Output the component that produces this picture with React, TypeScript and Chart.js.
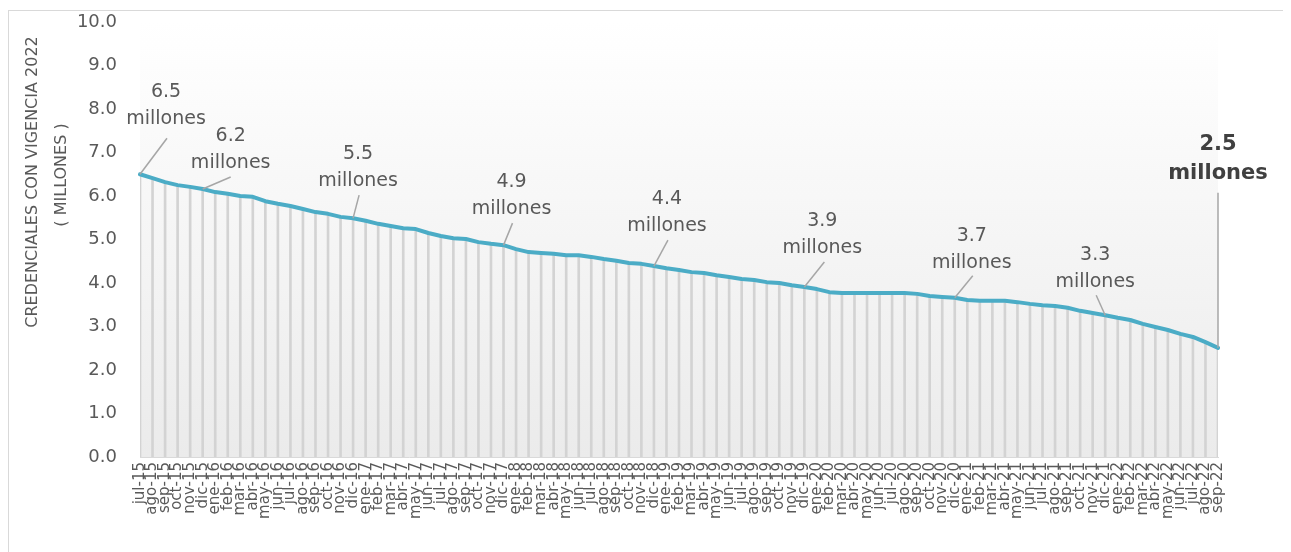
import React, { useEffect, useRef } from "react";
import { Chart, registerables } from "chart.js";

Chart.register(...registerables);

const categories = [
  "jul-15", "ago-15", "sep-15", "oct-15", "nov-15", "dic-15",
  "ene-16", "feb-16", "mar-16", "abr-16", "may-16", "jun-16", "jul-16", "ago-16", "sep-16", "oct-16", "nov-16", "dic-16",
  "ene-17", "feb-17", "mar-17", "abr-17", "may-17", "jun-17", "jul-17", "ago-17", "sep-17", "oct-17", "nov-17", "dic-17",
  "ene-18", "feb-18", "mar-18", "abr-18", "may-18", "jun-18", "jul-18", "ago-18", "sep-18", "oct-18", "nov-18", "dic-18",
  "ene-19", "feb-19", "mar-19", "abr-19", "may-19", "jun-19", "jul-19", "ago-19", "sep-19", "oct-19", "nov-19", "dic-19",
  "ene-20", "feb-20", "mar-20", "abr-20", "may-20", "jun-20", "jul-20", "ago-20", "sep-20", "oct-20", "nov-20", "dic-20",
  "ene-21", "feb-21", "mar-21", "abr-21", "may-21", "jun-21", "jul-21", "ago-21", "sep-21", "oct-21", "nov-21", "dic-21",
  "ene-22", "feb-22", "mar-22", "abr-22", "may-22", "jun-22", "jul-22", "ago-22", "sep-22",
];

const credenciales = [
  6.50, 6.41, 6.32, 6.25, 6.21, 6.16,
  6.09, 6.05, 6.00, 5.98, 5.88, 5.82, 5.77, 5.70, 5.63, 5.59, 5.52, 5.49,
  5.43, 5.36, 5.31, 5.26, 5.24, 5.15, 5.08, 5.03, 5.01, 4.94, 4.90, 4.87,
  4.78, 4.71, 4.69, 4.67, 4.64, 4.64, 4.60, 4.55, 4.51, 4.46, 4.44, 4.39,
  4.34, 4.30, 4.25, 4.23, 4.18, 4.14, 4.09, 4.07, 4.02, 4.00, 3.95, 3.91,
  3.86, 3.79, 3.77, 3.77, 3.77, 3.77, 3.77, 3.77, 3.75, 3.70, 3.68, 3.66,
  3.61, 3.59, 3.59, 3.59, 3.56, 3.52, 3.49, 3.47, 3.43, 3.36, 3.31, 3.26,
  3.20, 3.15, 3.06, 2.99, 2.92, 2.83, 2.76, 2.64, 2.51,
];

const calloutIndex = [0, 5, 17, 29, 41, 53, 65, 77, 86];
const calloutValue = ["6.5", "6.2", "5.5", "4.9", "4.4", "3.9", "3.7", "3.3", "2.5"];
const calloutUnit = "millones";

const yTitleLines = ["CREDENCIALES CON VIGENCIA 2022", "( MILLONES )"];
const yMin = 0;
const yMax = 10;
const yStep = 1;

// style: text offsets / leader offsets relative to the data point (pixels)
const calloutStyle = [
  { tx: 26, ty: -82, lx: 27, ly: -36, bold: false },
  { tx: 28, ty: -53, lx: 28, ly: -12, bold: false },
  { tx: 5, ty: -64, lx: 6, ly: -23, bold: false },
  { tx: 8, ty: -63, lx: 9, ly: -22, bold: false },
  { tx: 13, ty: -67, lx: 14, ly: -26, bold: false },
  { tx: 18, ty: -66, lx: 20, ly: -25, bold: false },
  { tx: 17, ty: -62, lx: 18, ly: -22, bold: false },
  { tx: -10, ty: -60, lx: -9, ly: -20, bold: false },
  { tx: 0, ty: -203, lx: 0, ly: -155, bold: true },
];

const FONT = "'DejaVu Sans', sans-serif";

const bgPlugin = {
  id: "plotBg",
  beforeDatasetsDraw(chart: any) {
    const { ctx, chartArea: a } = chart;
    const g = ctx.createLinearGradient(0, a.top, 0, a.bottom);
    g.addColorStop(0, "#ffffff");
    g.addColorStop(1, "#ebebeb");
    ctx.save();
    ctx.fillStyle = g;
    ctx.fillRect(a.left, a.top, a.right - a.left, a.bottom - a.top);
    ctx.restore();
  },
};

const calloutPlugin = {
  id: "callouts",
  afterDatasetsDraw(chart: any) {
    const { ctx } = chart;
    const xs = chart.scales.x;
    const ys = chart.scales.y;
    ctx.save();
    calloutIndex.forEach((idx, i) => {
      const st = calloutStyle[i];
      const x = xs.getPixelForValue(idx);
      const y = ys.getPixelForValue(credenciales[idx]);
      ctx.strokeStyle = "#a6a6a6";
      ctx.lineWidth = 1.5;
      ctx.beginPath();
      ctx.moveTo(x, y);
      ctx.lineTo(x + st.lx, y + st.ly);
      ctx.stroke();
      ctx.textAlign = "center";
      ctx.textBaseline = "middle";
      if (st.bold) {
        ctx.font = `bold 21px ${FONT}`;
        ctx.fillStyle = "#404040";
        ctx.fillText(calloutValue[i], x + st.tx, y + st.ty);
        ctx.fillText(calloutUnit, x + st.tx, y + st.ty + 29);
      } else {
        ctx.font = `19px ${FONT}`;
        ctx.fillStyle = "#595959";
        ctx.fillText(calloutValue[i], x + st.tx, y + st.ty);
        ctx.fillText(calloutUnit, x + st.tx, y + st.ty + 27);
      }
    });
    ctx.restore();
  },
};

const titlePlugin = {
  id: "yTitle",
  afterDraw(chart: any) {
    const { ctx } = chart;
    const pos = [
      { x: 24, y: 171 },
      { x: 53, y: 164 },
    ];
    ctx.save();
    ctx.font = `16px ${FONT}`;
    ctx.fillStyle = "#595959";
    ctx.textAlign = "center";
    ctx.textBaseline = "middle";
    yTitleLines.forEach((t, i) => {
      ctx.save();
      ctx.translate(pos[i].x, pos[i].y);
      ctx.rotate(-Math.PI / 2);
      ctx.fillText(t, 0, 0);
      ctx.restore();
    });
    ctx.restore();
  },
};

export default function App() {
  const ref = useRef<HTMLCanvasElement | null>(null);

  useEffect(() => {
    document.documentElement.style.overflow = "hidden";
    if (!ref.current) return;
    const chart = new Chart(ref.current, {
      type: "bar",
      data: {
        labels: categories,
        datasets: [
          {
            type: "line",
            label: "Credenciales",
            data: credenciales,
            borderColor: "#4bacc6",
            borderWidth: 4,
            pointRadius: 0,
            tension: 0,
            fill: false,
            borderJoinStyle: "round",
            borderCapStyle: "round",
            order: 0,
          } as any,
          {
            type: "bar",
            label: "drop",
            data: credenciales,
            backgroundColor: "#d3d3d3",
            barThickness: 2,
            order: 1,
          } as any,
        ],
      },
      options: {
        animation: false,
        responsive: true,
        maintainAspectRatio: false,
        layout: { padding: { left: 0, top: 11, right: 67, bottom: 0 } },
        plugins: {
          legend: { display: false },
          tooltip: { enabled: false },
          title: { display: false },
        },
        scales: {
          x: {
            offset: false,
            grid: { display: false, offset: false, drawTicks: false },
            border: { display: true, color: "#d9d9d9", width: 1 },
            ticks: {
              autoSkip: false,
              minRotation: 90,
              maxRotation: 90,
              padding: 5,
              color: "#595959",
              font: { family: FONT, size: 15 },
            },
            afterFit(axis: any) {
              axis.height = 93;
            },
          },
          y: {
            min: yMin,
            max: yMax,
            grid: { display: false, drawTicks: false },
            border: { display: false },
            ticks: {
              stepSize: yStep,
              padding: 23,
              color: "#595959",
              font: { family: FONT, size: 18 },
              callback: (v: any) => Number(v).toFixed(1),
            },
            afterFit(axis: any) {
              axis.width = 131;
              axis.paddingTop = 10;
              axis.paddingBottom = 10;
            },
          },
        },
      },
      plugins: [bgPlugin, calloutPlugin, titlePlugin],
    });
    return () => chart.destroy();
  }, []);

  return (
    <div
      style={{
        position: "relative",
        top: 2,
        width: 1278,
        height: 560,
        border: "1px solid #d9d9d9",
        boxSizing: "border-box",
        background: "#ffffff",
      }}
    >
      <div style={{ position: "relative", width: 1276, height: 539 }}>
        <canvas ref={ref} />
      </div>
    </div>
  );
}
